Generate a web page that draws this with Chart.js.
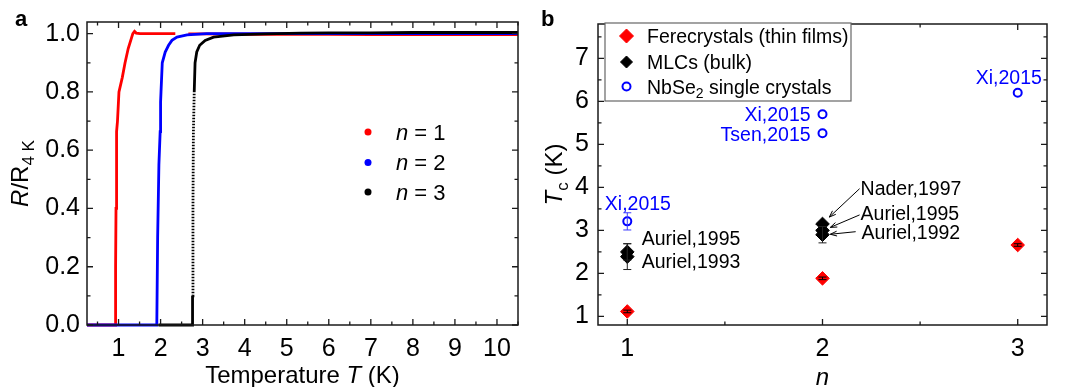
<!DOCTYPE html>
<html><head><meta charset="utf-8">
<script src="https://cdn.jsdelivr.net/npm/chart.js@4.4.0/dist/chart.umd.min.js"></script>
<style>
html,body{margin:0;padding:0;background:#fff;width:1072px;height:387px;overflow:hidden;}
#pa{position:absolute;left:0;top:0;}
#pb{position:absolute;left:540px;top:0;}
</style></head><body>
<canvas id="pa" width="540" height="387"></canvas>
<canvas id="pb" width="532" height="387"></canvas>
<script>
// ---------- Panel a: R/R4K vs temperature ----------
const tempN1 = [0.25, 0.6, 0.92, 0.93, 0.94, 0.95, 0.957, 0.975, 1.01, 1.09, 1.155, 1.23, 1.34, 1.38, 1.42, 1.51, 1.8, 2.1, 2.35, 2.5, 2.66, 3.0, 4.0, 5.0, 6.0, 7.0, 8.0, 9.0, 10.0, 10.5];
const resN1  = [0, 0, 0, 0.2, 0.4, 0.55, 0.664, 0.70, 0.80, 0.85, 0.90, 0.949, 1.0, 1.008, 1.002, 1.0, 1.0, 1.0, 1.0, null, 0.999, 0.999, 0.998, 0.998, 0.998, 0.997, 0.997, 0.997, 0.997, 0.997];
const tempN2 = [0.25, 1.0, 1.91, 1.93, 1.96, 1.99, 2.0, 2.01, 2.04, 2.11, 2.19, 2.27, 2.39, 2.63, 3.1, 4.0, 5.0, 6.0, 7.0, 8.0, 9.0, 10.0, 10.5];
const resN2  = [0, 0, 0, 0.3, 0.55, 0.664, 0.766, 0.80, 0.90, 0.937, 0.96, 0.977, 0.988, 0.996, 1.0, 1.0, 1.0, 1.0, 1.0, 1.0, 1.0, 1.0, 1.0];
const tempN3 = [1.95, 2.4, 2.75, 2.76, 2.77, 2.78, 2.80, 2.82, 2.86, 2.93, 3.06, 3.26, 3.74, 4.5, 5.33, 6.0, 7.0, 8.0, 9.0, 10.0, 10.5];
const resN3  = [0, 0, 0, 0.1, 0.4, 0.66, 0.80, 0.90, 0.937, 0.96, 0.977, 0.988, 0.996, 0.999, 1.002, 1.003, 1.003, 1.004, 1.004, 1.004, 1.004];
const tickT = [1, 2, 3, 4, 5, 6, 7, 8, 9, 10];
const tickR = [0, 0.2, 0.4, 0.6, 0.8, 1.0];

// ---------- Panel b: Tc vs n ----------
const fereN   = [1, 2, 3];
const fereTc  = [1.115, 1.885, 2.66];
const fereErr = [0.03, 0.03, 0.03];
const mlcN    = [1, 1, 2, 2, 2];
const mlcTc   = [2.50, 2.39, 3.15, 3.00, 2.90];
const mlcErr  = [0.19, 0.30, 0, 0, 0.19];
const nbN     = [1, 2, 2, 3];
const nbTc    = [3.21, 5.70, 5.26, 6.20];
const nbErr   = [0.20, 0, 0, 0];
const tickN   = [1, 2, 3];
const tickTc  = [1, 2, 3, 4, 5, 6, 7];

const FAM = '"Liberation Sans", Arial, sans-serif';
const RED = '#ff0000', BLUE = '#0000ff', BLACK = '#000000';
Chart.defaults.font.family = FAM;
Chart.defaults.color = '#000';

const toXY = (xs, ys) => xs.map((x, i) => ({x: x, y: ys[i]}));

function drawRich(ctx, segs, x, y, align, rotate, size) {
  ctx.save();
  ctx.translate(x, y);
  if (rotate) ctx.rotate(-Math.PI / 2);
  const fonts = segs.map(s => (s.i ? 'italic ' : '') + (s.b ? 'bold ' : '') + (s.s ? Math.round(size * 0.7) : size) + 'px ' + FAM);
  const widths = segs.map((s, k) => { ctx.font = fonts[k]; return ctx.measureText(s.t).width; });
  const total = widths.reduce((p, q) => p + q, 0);
  let cx = align === 'center' ? -total / 2 : (align === 'right' ? -total : 0);
  ctx.textAlign = 'left'; ctx.textBaseline = 'alphabetic';
  ctx.fillStyle = '#000';
  segs.forEach((s, k) => {
    ctx.font = fonts[k];
    if (s.c) ctx.fillStyle = s.c;
    ctx.fillText(s.t, cx, s.s ? size * 0.25 : 0);
    cx += widths[k];
  });
  ctx.restore();
}

const frameTicks = {
  id: 'frameTicks',
  afterDatasetsDraw(chart, args, o) {
    const {ctx, chartArea: a} = chart;
    const xs = chart.scales.x, ys = chart.scales.y;
    ctx.save();
    ctx.strokeStyle = '#1a1a1a';
    ctx.lineWidth = 1.5;
    ctx.strokeRect(a.left, a.top, a.right - a.left, a.bottom - a.top);
    ctx.lineWidth = 1.3;
    const minors = (sc, step) => {
      const out = [], majors = sc.ticks.map(t => t.value);
      for (let k = Math.ceil(sc.min / step - 1e-9); k * step <= sc.max + 1e-9; k++) {
        const v = k * step;
        if (!majors.some(m => Math.abs(m - v) < 1e-6)) out.push(v);
      }
      return out;
    };
    const dx = (vals, len) => vals.forEach(v => {
      const p = xs.getPixelForValue(v);
      ctx.beginPath();
      ctx.moveTo(p, a.bottom); ctx.lineTo(p, a.bottom - len);
      ctx.moveTo(p, a.top); ctx.lineTo(p, a.top + len);
      ctx.stroke();
    });
    const dy = (vals, len) => vals.forEach(v => {
      const p = ys.getPixelForValue(v);
      ctx.beginPath();
      ctx.moveTo(a.left, p); ctx.lineTo(a.left + len, p);
      ctx.moveTo(a.right, p); ctx.lineTo(a.right - len, p);
      ctx.stroke();
    });
    dx(xs.ticks.map(t => t.value), 6); dx(minors(xs, o.xMinor), 3.5);
    dy(ys.ticks.map(t => t.value), 6); dy(minors(ys, o.yMinor), 3.5);
    ctx.restore();
  }
};

// ---------- panel a decorations ----------
const panelA = {
  id: 'panelA',
  afterDraw(chart) {
    const ctx = chart.ctx, a = chart.chartArea;
    const cy = (a.top + a.bottom) / 2, cx = (a.left + a.right) / 2;
    drawRich(ctx, [{t: 'R', i: 1}, {t: '/R'}, {t: '4 K', s: 1}], 28, cy, 'center', true, 24);
    drawRich(ctx, [{t: 'Temperature '}, {t: 'T', i: 1}, {t: ' (K)'}], cx, 383, 'center', false, 24);
    drawRich(ctx, [{t: 'a', b: 1}], 15, 26, 'left', false, 22);
    const rows = [{c: RED, l: '1', y: 132}, {c: BLUE, l: '2', y: 162.5}, {c: BLACK, l: '3', y: 192}];
    rows.forEach(r => {
      ctx.save();
      ctx.fillStyle = r.c;
      ctx.beginPath(); ctx.arc(368, r.y, 3.5, 0, Math.PI * 2); ctx.fill();
      ctx.restore();
      drawRich(ctx, [{t: 'n', i: 1}, {t: ' = ' + r.l}], 396, r.y + 7.9, 'left', false, 22);
    });
  }
};

const sparse = c => (c.p0.parsed.y > 0.05 && c.p1.parsed.y < 0.86) ? [1.6, 1.4] : undefined;

new Chart(document.getElementById('pa'), {
  type: 'scatter',
  data: {
    datasets: [
      {label: 'n = 3', data: toXY(tempN3, resN3), showLine: true, borderColor: BLACK, backgroundColor: BLACK, borderWidth: 2.8, pointRadius: 0, clip: 6, spanGaps: false, segment: {borderDash: sparse}},
      {label: 'n = 2', data: toXY(tempN2, resN2), showLine: true, borderColor: BLUE, backgroundColor: BLUE, borderWidth: 2.8, pointRadius: 0, clip: 6, spanGaps: false},
      {label: 'n = 1', data: toXY(tempN1, resN1), showLine: true, borderColor: RED, backgroundColor: RED, borderWidth: 2.8, pointRadius: 0, clip: 6, spanGaps: false}
    ]
  },
  options: {
    responsive: false, animation: false,
    layout: {padding: {left: 0, top: 20, right: 22, bottom: 0}},
    plugins: {legend: {display: false}, tooltip: {enabled: false}, frameTicks: {xMinor: 0.5, yMinor: 0.1}},
    scales: {
      x: {type: 'linear', min: 0.25, max: 10.5,
          afterBuildTicks: s => { s.ticks = tickT.map(v => ({value: v})); },
          afterFit: s => { s.height = 62; },
          grid: {display: false, drawTicks: false}, border: {display: false},
          ticks: {font: {size: 25}, color: '#000', padding: 9, maxRotation: 0, autoSkip: false}},
      y: {type: 'linear', min: 0, max: 1.04,
          afterBuildTicks: s => { s.ticks = tickR.map(v => ({value: v})); },
          afterFit: s => { s.width = 87; },
          grid: {display: false, drawTicks: false}, border: {display: false},
          ticks: {font: {size: 25}, color: '#000', padding: 7, autoSkip: false, callback: v => Number(v).toFixed(1)}}
    }
  },
  plugins: [frameTicks, panelA]
});

// ---------- panel b decorations ----------
const annotations = [
  {text: 'Xi,2015',     color: BLUE,  n: 0.885, tc: 3.64, align: 'left'},
  {text: 'Auriel,1995', color: BLACK, n: 1.074, tc: 2.83, align: 'left'},
  {text: 'Auriel,1993', color: BLACK, n: 1.074, tc: 2.28, align: 'left'},
  {text: 'Xi,2015',     color: BLUE,  n: 1.939, tc: 5.70, align: 'right'},
  {text: 'Tsen,2015',   color: BLUE,  n: 1.939, tc: 5.24, align: 'right'},
  {text: 'Xi,2015',     color: BLUE,  n: 2.785, tc: 6.57, align: 'left'},
  {text: 'Nader,1997',  color: BLACK, n: 2.195, tc: 3.98, align: 'left'},
  {text: 'Auriel,1995', color: BLACK, n: 2.195, tc: 3.41, align: 'left'},
  {text: 'Auriel,1992', color: BLACK, n: 2.20,  tc: 2.97, align: 'left'}
];
const arrows = [
  {from: [2.19, 3.97], to: [2.035, 3.31]},
  {from: [2.19, 3.36], to: [2.04, 3.07]},
  {from: [2.17, 2.97], to: [2.04, 2.91]}
];

const errorBars = {
  id: 'errorBars',
  afterDatasetsDraw(chart) {
    const ctx = chart.ctx, ys = chart.scales.y;
    chart.data.datasets.forEach((ds, i) => {
      if (!ds.errors) return;
      const meta = chart.getDatasetMeta(i);
      meta.data.forEach((pt, k) => {
        const e = ds.errors[k];
        if (!e) return;
        const v = ds.data[k].y;
        const y1 = ys.getPixelForValue(v + e), y2 = ys.getPixelForValue(v - e);
        ctx.save();
        ctx.strokeStyle = ds.errorColor; ctx.lineWidth = 1;
        ctx.beginPath();
        ctx.moveTo(pt.x, y1); ctx.lineTo(pt.x, y2);
        ctx.moveTo(pt.x - 4, y1); ctx.lineTo(pt.x + 4, y1);
        ctx.moveTo(pt.x - 4, y2); ctx.lineTo(pt.x + 4, y2);
        ctx.stroke();
        ctx.restore();
      });
    });
  }
};

const panelB = {
  id: 'panelB',
  afterDraw(chart) {
    const ctx = chart.ctx, a = chart.chartArea, xs = chart.scales.x, ys = chart.scales.y;
    const cy = (a.top + a.bottom) / 2, cx = (a.left + a.right) / 2;
    drawRich(ctx, [{t: 'T', i: 1}, {t: 'c', s: 1}, {t: ' (K)'}], 22, cy, 'center', true, 24);
    drawRich(ctx, [{t: 'n', i: 1}], cx, 385, 'center', false, 24);
    drawRich(ctx, [{t: 'b', b: 1}], 1, 26, 'left', false, 22);
    annotations.forEach(an => {
      drawRich(ctx, [{t: an.text, c: an.color}], xs.getPixelForValue(an.n), ys.getPixelForValue(an.tc) + 7, an.align, false, 19.5);
    });
    ctx.save();
    ctx.strokeStyle = '#000'; ctx.lineWidth = 1;
    arrows.forEach(ar => {
      const x1 = xs.getPixelForValue(ar.from[0]), y1 = ys.getPixelForValue(ar.from[1]);
      const x2 = xs.getPixelForValue(ar.to[0]), y2 = ys.getPixelForValue(ar.to[1]);
      const ang = Math.atan2(y2 - y1, x2 - x1);
      ctx.beginPath();
      ctx.moveTo(x1, y1); ctx.lineTo(x2, y2);
      ctx.moveTo(x2 - 7 * Math.cos(ang - 0.35), y2 - 7 * Math.sin(ang - 0.35));
      ctx.lineTo(x2, y2);
      ctx.lineTo(x2 - 7 * Math.cos(ang + 0.35), y2 - 7 * Math.sin(ang + 0.35));
      ctx.stroke();
    });
    ctx.restore();
    // legend box
    ctx.save();
    ctx.fillStyle = '#fff'; ctx.strokeStyle = '#666'; ctx.lineWidth = 1.2;
    ctx.fillRect(65, 23, 246, 78);
    ctx.strokeRect(65, 23, 246, 78);
    ctx.restore();
    const ds = chart.data.datasets;
    const rows = [
      {d: ds[0], r: 7, y: 36, segs: [{t: 'Ferecrystals (thin films)'}]},
      {d: ds[1], r: 6, y: 62, segs: [{t: 'MLCs (bulk)'}]},
      {d: ds[2], r: 4, y: 86.5, segs: [{t: 'NbSe'}, {t: '2', s: 1}, {t: ' single crystals'}]}
    ];
    rows.forEach(row => {
      ctx.save();
      ctx.fillStyle = row.d.backgroundColor; ctx.strokeStyle = row.d.borderColor; ctx.lineWidth = row.d.borderWidth;
      Chart.helpers.drawPoint(ctx, {pointStyle: row.d.pointStyle, radius: row.r, borderWidth: row.d.borderWidth, rotation: 0}, 86.5, row.y);
      ctx.restore();
      drawRich(ctx, row.segs, 107, row.y + 7, 'left', false, 19.5);
    });
  }
};

new Chart(document.getElementById('pb'), {
  type: 'scatter',
  data: {
    datasets: [
      {label: 'Ferecrystals (thin films)', data: toXY(fereN, fereTc), errors: fereErr, errorColor: '#000',
       pointStyle: 'rectRot', pointRadius: 6.8, backgroundColor: RED, borderColor: RED, borderWidth: 1},
      {label: 'MLCs (bulk)', data: toXY(mlcN, mlcTc), errors: mlcErr, errorColor: '#222',
       pointStyle: 'rectRot', pointRadius: 6.8, backgroundColor: BLACK, borderColor: BLACK, borderWidth: 1},
      {label: 'NbSe2 single crystals', data: toXY(nbN, nbTc), errors: nbErr, errorColor: '#3a3aff',
       pointStyle: 'circle', pointRadius: 4, backgroundColor: 'rgba(255,255,255,0)', borderColor: BLUE, borderWidth: 2}
    ]
  },
  options: {
    responsive: false, animation: false,
    layout: {padding: {left: 0, top: 20, right: 25, bottom: 0}},
    plugins: {legend: {display: false}, tooltip: {enabled: false}, frameTicks: {xMinor: 0.5, yMinor: 0.5}},
    scales: {
      x: {type: 'linear', min: 0.85, max: 3.15,
          afterBuildTicks: s => { s.ticks = tickN.map(v => ({value: v})); },
          afterFit: s => { s.height = 62; },
          grid: {display: false, drawTicks: false}, border: {display: false},
          ticks: {font: {size: 25}, color: '#000', padding: 9, maxRotation: 0, autoSkip: false}},
      y: {type: 'linear', min: 0.8, max: 7.8,
          afterBuildTicks: s => { s.ticks = tickTc.map(v => ({value: v})); },
          afterFit: s => { s.width = 58; },
          grid: {display: false, drawTicks: false}, border: {display: false},
          ticks: {font: {size: 25}, color: '#000', padding: 9, autoSkip: false}}
    }
  },
  plugins: [frameTicks, errorBars, panelB]
});
</script>
</body></html>
